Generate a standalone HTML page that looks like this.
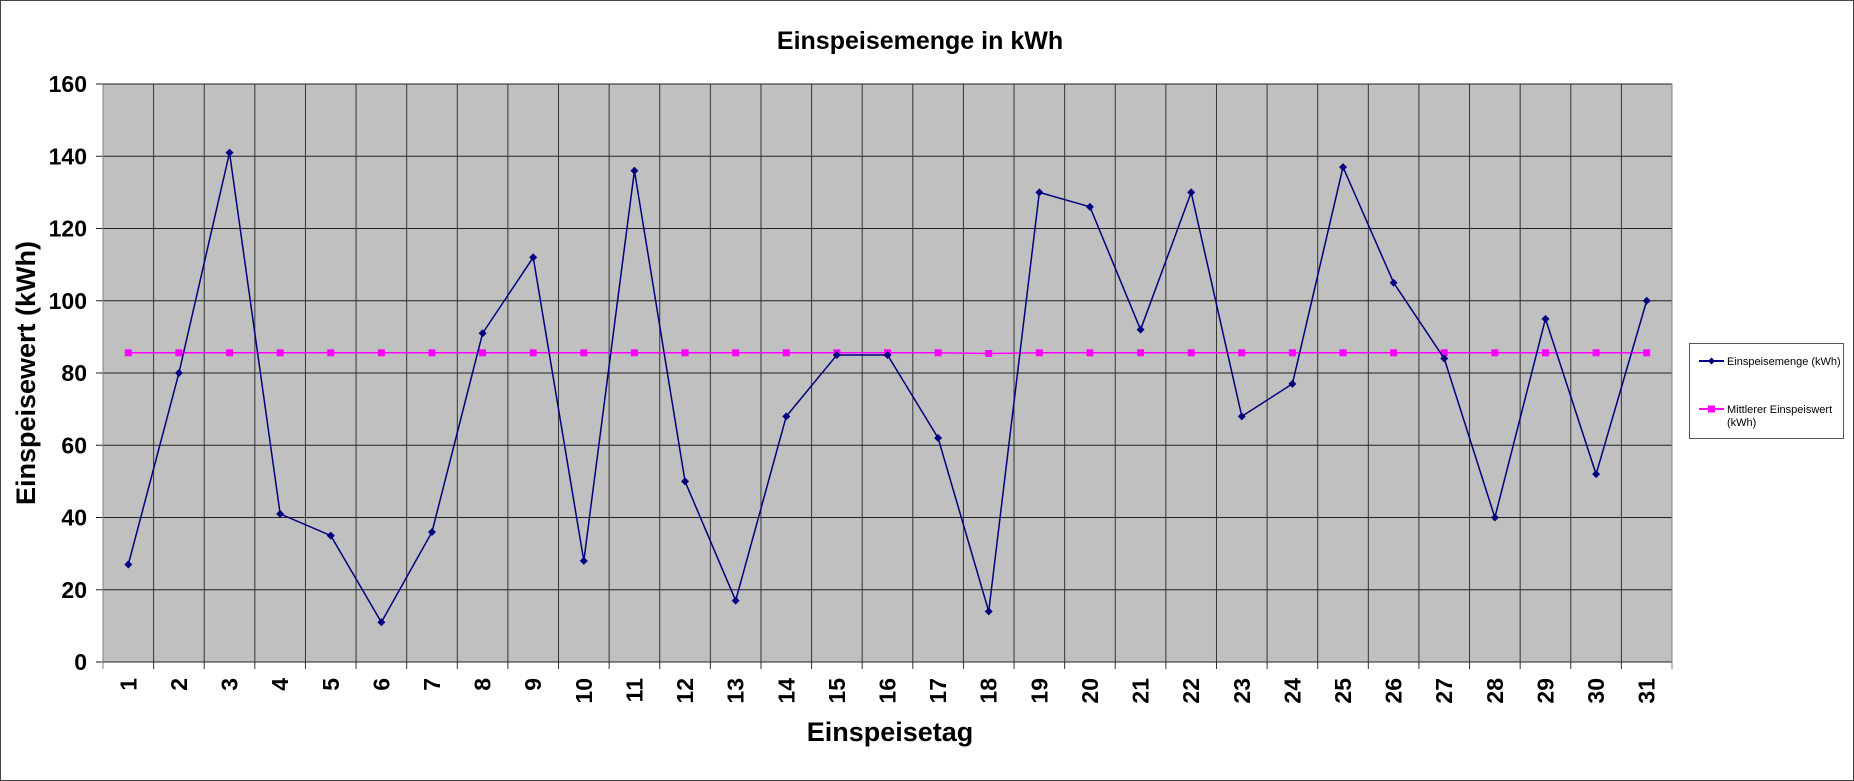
<!DOCTYPE html>
<html><head><meta charset="utf-8"><style>
body{margin:0;background:#fff}
svg{display:block;font-family:"Liberation Sans",Arial,sans-serif}
</style></head><body>
<svg id="c" width="1854" height="781">
<rect x="0.5" y="0.5" width="1853" height="780" fill="#fff" stroke="#444"/>
<text x="920" y="49" text-anchor="middle" font-size="25" font-weight="bold">Einspeisemenge in kWh</text>
<rect x="103" y="84" width="1569" height="578" fill="#c0c0c0" stroke="#808080"/>
<g id="grid"></g><g id="ticks"></g><g id="series"></g>
<text transform="translate(35,373) rotate(-90)" text-anchor="middle" font-size="27" font-weight="bold">Einspeisewert  (kWh)</text>
<text x="890" y="741" text-anchor="middle" font-size="27" font-weight="bold">Einspeisetag</text>
<g>
<rect x="1689.5" y="343.5" width="154" height="95" fill="#fff" stroke="#555"/>
<line x1="1699" y1="361" x2="1724" y2="361" stroke="#000080" stroke-width="2"/>
<path d="M1711.5 357.5 L1715 361 L1711.5 364.5 L1708 361Z" fill="#000080"/>
<text x="1727" y="365" font-size="11">Einspeisemenge (kWh)</text>
<line x1="1699" y1="409" x2="1724" y2="409" stroke="#ff00ff" stroke-width="2"/>
<rect x="1708" y="405.5" width="7" height="7" fill="#ff00ff"/>
<text x="1727" y="413" font-size="11">Mittlerer Einspeiswert</text>
<text x="1727" y="426" font-size="11">(kWh)</text>
</g>
</svg>
<script>
const days=[1,2,3,4,5,6,7,8,9,10,11,12,13,14,15,16,17,18,19,20,21,22,23,24,25,26,27,28,29,30,31];
const values=[27,80,141,41,35,11,36,91,112,28,136,50,17,68,85,85,62,14,130,126,92,130,68,77,137,105,84,40,95,52,100];
const meanValues=[85.6,85.6,85.6,85.6,85.6,85.6,85.6,85.6,85.6,85.6,85.6,85.6,85.6,85.6,85.6,85.6,85.6,85.4,85.6,85.6,85.6,85.6,85.6,85.6,85.6,85.6,85.6,85.6,85.6,85.6,85.6];
const yTicks=[0,20,40,60,80,100,120,140,160];
const NS="http://www.w3.org/2000/svg";
const L=103,R=1672,T=84,B=662,yMax=160;
const cw=(R-L)/days.length;
const x=i=>L+cw*(i+0.5);
const y=v=>B-(v/yMax)*(B-T);
function mk(tag,attrs,parent){const e=document.createElementNS(NS,tag);for(const k in attrs)e.setAttribute(k,attrs[k]);parent.appendChild(e);return e;}
const grid=document.getElementById('grid'),ticks=document.getElementById('ticks'),ser=document.getElementById('series');
yTicks.forEach(v=>{
 const g=mk('line',{x1:L-7,x2:R,y1:y(v),y2:y(v),stroke:'#222','stroke-width':1},grid);
 
 
 const t=mk('text',{x:L-16,y:y(v)+8,'text-anchor':'end','font-size':23,'font-weight':'bold'},ticks);
 t.textContent=v;
 
 
});
for(let i=0;i<=days.length;i++){
 const xx=L+cw*i;
 const g=mk('line',{x1:xx,x2:xx,y1:T,y2:B+7,stroke:i==0||i==days.length?'#808080':'#333','stroke-width':1},grid);
 
 
}
days.forEach((d,i)=>{
 const t=mk('text',{transform:`translate(${x(i)+8},${B+16}) rotate(-90)`,'text-anchor':'end','font-size':23,'font-weight':'bold'},ticks);
 t.textContent=d;
 
 
});
const mp=mk('polyline',{points:meanValues.map((v,i)=>x(i)+','+y(v)).join(' '),fill:'none',stroke:'#ff00ff','stroke-width':1.5},ser);


meanValues.forEach((v,i)=>{
 const r=mk('rect',{x:x(i)-3.5,y:y(v)-3.5,width:7,height:7,fill:'#ff00ff'},ser);
 
 
});
const p=mk('polyline',{points:values.map((v,i)=>x(i)+','+y(v)).join(' '),fill:'none',stroke:'#000080','stroke-width':1.5},ser);


values.forEach((v,i)=>{
 const cx=x(i),cy=y(v);
 const d=mk('path',{d:`M${cx} ${cy-4}L${cx+4} ${cy}L${cx} ${cy+4}L${cx-4} ${cy}Z`,fill:'#000080'},ser);
 
 
});
</script>
</body></html>
